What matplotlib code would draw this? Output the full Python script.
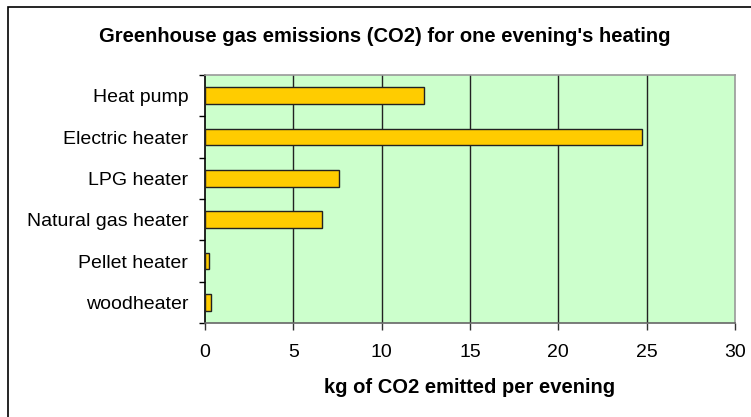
import matplotlib.pyplot as plt
from matplotlib.patches import Rectangle

plt.rcParams['font.family'] = ['Liberation Sans', 'DejaVu Sans']

heaters = ['Heat pump', 'Electric heater', 'LPG heater', 'Natural gas heater',
           'Pellet heater', 'woodheater']
co2_kg = [12.4, 24.75, 7.6, 6.6, 0.24, 0.32]
xticks = [0, 5, 10, 15, 20, 25, 30]

fig = plt.figure(figsize=(7.51, 4.17), dpi=100)
# outer chart frame (right and bottom edges fall outside the image)
fig.patches.append(Rectangle((8 / 751, -0.1), 1.2, 1 - 7 / 417 + 0.1,
                             transform=fig.transFigure, fill=False,
                             edgecolor='black', linewidth=1.2, clip_on=False))

ax = fig.add_axes([205 / 751, 1 - 323 / 417, 530 / 751, 248 / 417])
ax.set_facecolor('#CCFFCC')

ypos = list(range(len(heaters)))
ax.barh(ypos, co2_kg, height=0.4, color='#FFCC00', edgecolor='#222222',
        linewidth=1, zorder=3)

ax.set_xlim(0, 30)
ax.set_ylim(len(heaters) - 0.5, -0.5)
ax.set_xticks(xticks)
ax.set_xticklabels([str(t) for t in xticks], fontsize=14)
ax.set_yticks(ypos)
ax.set_yticklabels(heaters, fontsize=14)
ax.tick_params(axis='y', length=0, pad=12)
# category separator ticks on the left axis
ax.set_yticks([y + 0.5 for y in [-1] + ypos], minor=True)
ax.tick_params(axis='y', which='minor', length=4.5, width=1, color='black')
ax.tick_params(axis='x', length=5, width=1, color='#333333', pad=10)

for t in xticks[1:-1]:
    ax.axvline(t, color='#222222', linewidth=1, zorder=1)

ax.spines['left'].set_color('black')
ax.spines['bottom'].set_color('#666666')
ax.spines['top'].set_color('#999999')
ax.spines['right'].set_color('#999999')
for s in ax.spines.values():
    s.set_linewidth(1.2)

ax.set_xlabel('kg of CO2 emitted per evening', fontsize=14.5, fontweight='bold')
ax.xaxis.set_label_coords(0.5, -0.222)
fig.text(385 / 751, 1 - 36 / 417, "Greenhouse gas emissions (CO2) for one evening's heating",
         ha='center', va='center', fontsize=14.5, fontweight='bold')

plt.savefig('out.png', dpi=100)
